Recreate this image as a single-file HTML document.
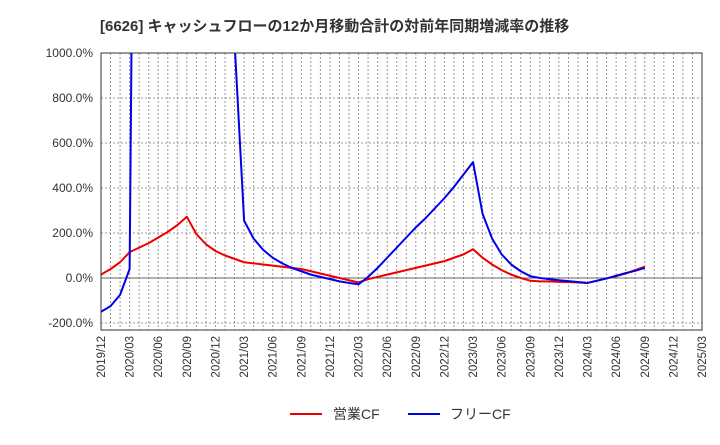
<!DOCTYPE html>
<html><head><meta charset="utf-8"><style>
body{margin:0;background:#fff;font-family:"Liberation Sans","Noto Sans CJK JP",sans-serif;}
</style></head><body>
<svg width="720" height="440" xmlns="http://www.w3.org/2000/svg" style="font-family:'Liberation Sans','Noto Sans CJK JP',sans-serif">
<text x="100" y="31" font-size="15" font-weight="bold" fill="#333">[6626]  キャッシュフローの12か月移動合計の対前年同期増減率の推移</text>
<defs><clipPath id="pc"><rect x="101" y="53" width="601" height="277"/></clipPath></defs>
<g id="grid"></g>
<g id="lines" clip-path="url(#pc)"></g>
<rect x="101" y="53" width="601" height="277" fill="none" stroke="#333" stroke-width="1"/>
<g id="yt"></g><g id="xt"></g>
<g>
<line x1="290" y1="414" x2="322" y2="414" stroke="#e00" stroke-width="2"/>
<text x="333" y="419" font-size="14" fill="#333">営業CF</text>
<line x1="408" y1="414" x2="440" y2="414" stroke="#00e" stroke-width="2"/>
<text x="450" y="419" font-size="14" fill="#333">フリーCF</text>
</g>
</svg>
<script>
const xLabels=["2019/12","2020/03","2020/06","2020/09","2020/12","2021/03","2021/06","2021/09","2021/12","2022/03","2022/06","2022/09","2022/12","2023/03","2023/06","2023/09","2023/12","2024/03","2024/06","2024/09","2024/12","2025/03"];
const yTicks=[-200,0,200,400,600,800,1000];
const operatingCF=[15,40,70,115,135,155,180,205,235,272,195,150,120,100,85,70,65,60,55,50,45,40,30,20,10,0,-10,-20,-5,5,15,25,35,45,55,65,75,90,105,128,90,60,35,15,0,-12,-15,-15,-17,-18,-20,-22,-12,-2,8,20,35,50];
const freeCF=[-150,-125,-75,40,5000,5000,5000,5000,5000,5000,5000,5000,5000,5000,1050,255,175,125,90,65,45,30,15,5,-5,-15,-22,-28,5,45,90,135,180,225,265,310,355,405,460,515,285,175,105,60,30,8,0,-5,-10,-14,-18,-22,-12,-2,10,22,32,45];
const NS="http://www.w3.org/2000/svg";
const X0=101,X1=702,months=63;
const xs=i=>X0+i*(X1-X0)/months;
const ys=v=>278-v*45/200;
const grid=document.getElementById('grid'),lines=document.getElementById('lines'),yt=document.getElementById('yt'),xt=document.getElementById('xt');
function mk(tag,attrs,parent){const e=document.createElementNS(NS,tag);for(const k in attrs)e.setAttribute(k,attrs[k]);parent.appendChild(e);return e;}
for(let i=1;i<months;i++){
  const l=mk('line',{x1:xs(i),x2:xs(i),y1:53,y2:330,stroke:'#999','stroke-dasharray':'2,2','stroke-width':1},grid);
  
  
}
yTicks.forEach(v=>{
  const l=mk('line',{x1:X0,x2:X1,y1:ys(v),y2:ys(v),stroke:v===0?'#666':'#999','stroke-dasharray':v===0?'':'2,2','stroke-width':1},grid);
  
  
  const t=mk('text',{x:93,y:ys(v)+4,'font-size':12,fill:'#333','text-anchor':'end'},yt);
  t.textContent=v.toFixed(1)+'%';
  
  
});
xLabels.forEach((s,i)=>{
  const x=xs(i*3);
  const t=mk('text',{x:0,y:0,'font-size':11.5,fill:'#333','text-anchor':'end',transform:`translate(${x+4},336) rotate(-90)`},xt);
  t.textContent=s;
  
  
});
function series(data,color,name){
  const p=mk('polyline',{points:data.map((v,i)=>xs(i)+','+ys(v)).join(' '),fill:'none',stroke:color,'stroke-width':2,'stroke-linejoin':'round'},lines);
  
  
}
series(operatingCF,'#e00','operating-cf-line');
series(freeCF,'#00e','free-cf-line');
</script>
</body></html>
